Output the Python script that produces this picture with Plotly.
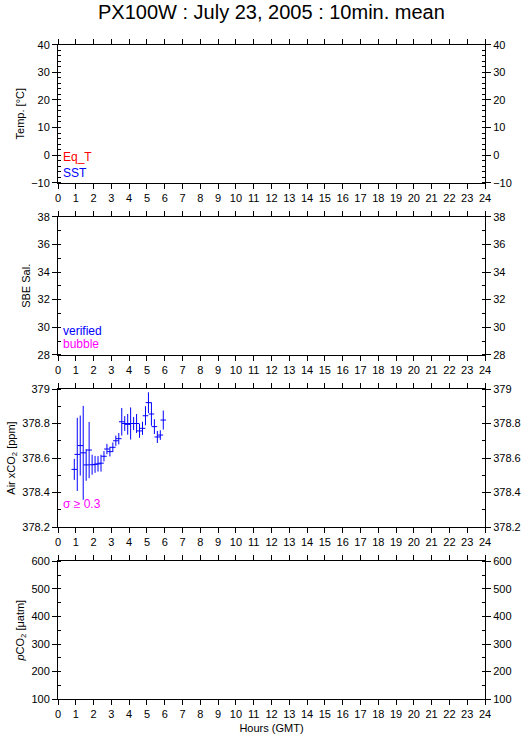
import plotly.graph_objects as go

W, H = 529, 739
X0, X1 = 58, 485
TOPS = [44.7, 216.8, 389.0, 561.2]
PH = 138.0

# ---- data ----
hours = [0.917, 1.083, 1.25, 1.417, 1.583, 1.75, 1.917, 2.083, 2.25, 2.417,
         2.583, 2.75, 2.917, 3.083, 3.25, 3.417, 3.583, 3.75, 3.917, 4.083,
         4.25, 4.417, 4.583, 4.75, 4.917, 5.083, 5.25, 5.417, 5.583, 5.75, 5.917]
air_xco2 = [378.534, 378.621, 378.672, 378.630, 378.560, 378.646, 378.561, 378.563,
            378.566, 378.570, 378.610, 378.652, 378.637, 378.662, 378.700, 378.712,
            378.810, 378.800, 378.795, 378.800, 378.800, 378.800, 378.757, 378.772,
            378.845, 378.921, 378.855, 378.782, 378.722, 378.733, 378.820]
air_sigma = [0.061, 0.212, 0.174, 0.272, 0.092, 0.163, 0.058, 0.049, 0.045, 0.049,
             0.030, 0.030, 0.028, 0.028, 0.030, 0.033, 0.080, 0.043, 0.060, 0.093,
             0.038, 0.055, 0.040, 0.038, 0.055, 0.060, 0.068, 0.043, 0.035, 0.028, 0.055]

hour_ticks = list(range(0, 25))
panels = [
    dict(title="Temp. [°C]", range=[-10, 40], dtick=10, minor=2),
    dict(title="SBE Sal.", range=[28, 38], dtick=2, minor=1),
    dict(title="Air xCO<sub>2</sub> [ppm]", range=[378.2, 379.0], dtick=0.2, minor=0.1),
    dict(title="<i>p</i>CO<sub>2</sub> [μatm]", range=[100, 600], dtick=100, minor=50),
]

FONT = "Liberation Sans, Arial, sans-serif"
BLUE, RED, MAG = "#0000ff", "#ff0000", "#ff00ff"


def py(y):
    return 1 - y / H


fig = go.Figure()
layout = dict(width=W, height=H, margin=dict(l=0, r=0, t=0, b=0, autoexpand=False),
              paper_bgcolor="white", plot_bgcolor="white", showlegend=False,
              font=dict(family=FONT, size=11, color="black"))

for i, p in enumerate(panels):
    n = i + 1
    xa = "xaxis" if n == 1 else f"xaxis{n}"
    ya = "yaxis" if n == 1 else f"yaxis{n}"
    yr = f"yaxis{n + 4}"
    xref = "x" if n == 1 else f"x{n}"
    yref = "y" if n == 1 else f"y{n}"
    dom_y = [py(TOPS[i] + PH), py(TOPS[i])]
    layout[xa] = dict(domain=[X0 / W, X1 / W], range=[0, 24], anchor=yref,
                      tickmode="array", tickvals=hour_ticks,
                      ticktext=[str(h) for h in hour_ticks],
                      ticks="outside", ticklen=5, tickcolor="black",
                      showline=True, linecolor="black", linewidth=1,
                      mirror="ticks", showgrid=False, zeroline=False,
                      automargin=False, tickfont=dict(size=11))
    common = dict(range=p["range"], dtick=p["dtick"], tick0=p["range"][0],
                  ticks="outside", ticklen=5, tickcolor="black",
                  showline=True, linecolor="black", linewidth=1,
                  showgrid=False, zeroline=False, automargin=False,
                  tickfont=dict(size=11),
                  minor=dict(dtick=p["minor"], ticks="inside", ticklen=3,
                             tickcolor="black", showgrid=False))
    layout[ya] = dict(domain=dom_y, anchor=xref, side="left",
                      title=dict(text=p["title"], font=dict(size=11), standoff=4),
                      **common)
    layout[yr] = dict(overlaying=yref, anchor=xref, side="right", **common)
    # placeholder traces so every axis pair is drawn
    fig.add_trace(go.Scatter(x=[None], y=[None], xaxis=xref, yaxis=yref))
    fig.add_trace(go.Scatter(x=[None], y=[None], xaxis=xref, yaxis=f"y{n + 4}"))

layout["xaxis4"]["title"] = dict(text="Hours (GMT)", font=dict(size=11), standoff=4)

fig.add_trace(go.Scatter(
    x=hours, y=air_xco2, xaxis="x3", yaxis="y3", mode="markers",
    marker=dict(symbol="line-ew", size=4, color=BLUE,
                line=dict(color=BLUE, width=1)),
    error_y=dict(type="data", array=air_sigma, visible=True, width=0,
                 thickness=1, color=BLUE),
))

fig.update_layout(**layout)

labels = [
    ("Eq_T", RED, 157.5),
    ("SST", BLUE, 172.5),
    ("verified", BLUE, 331),
    ("bubble", MAG, 344.5),
    ("σ ≥ 0.3", MAG, 504),
]
for txt, col, yc in labels:
    fig.add_annotation(text=txt, xref="paper", yref="paper", x=61 / W, y=py(yc),
                       xanchor="left", yanchor="middle", showarrow=False,
                       font=dict(size=12, color=col, family=FONT))

fig.add_annotation(text="PX100W : July 23, 2005 : 10min. mean", xref="paper",
                   yref="paper", x=271 / W, y=py(12), xanchor="center",
                   yanchor="middle", showarrow=False,
                   font=dict(size=20, color="black", family=FONT))

fig.write_html("out.html", config={"displayModeBar": False},
               post_script="document.body.style.margin='0px';"
                           "document.body.style.overflow='hidden';")
